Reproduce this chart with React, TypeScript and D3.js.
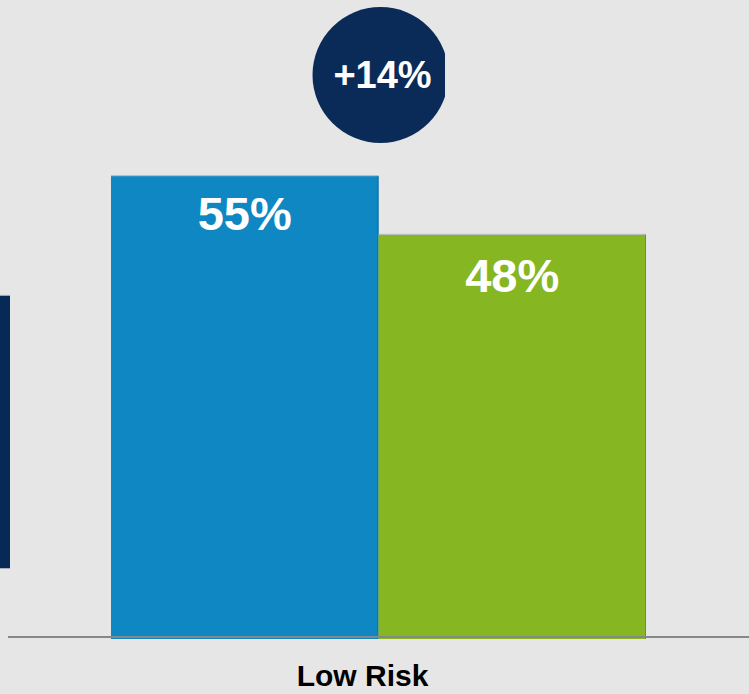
import React from "react";
import * as d3 from "d3";

const categories = ["Low Risk"];
const seriesNames = ["Series A", "Series B"];
const seriesValues = [55, 48];
const valueLabels = ["55%", "48%"];
const seriesColors = ["#0f87c2", "#86b723"];
const differenceLabel = "+14%";
// partially visible dark panel at the left edge (value range it spans)
const sideBarRange = [8.2, 40.7];

const W = 749;
const H = 694;

export default function App() {
  const baseY = 637;
  const y = d3.scaleLinear().domain([0, 76]).range([baseY, baseY - 76 * 8.38]);
  const xCat = d3.scaleBand().domain(categories).range([111, 646]).padding(0);
  const xSer = d3
    .scaleBand()
    .domain(seriesNames)
    .range([0, xCat.bandwidth()])
    .padding(0);

  const cx = (xCat(categories[0]) ?? 0) + xCat.bandwidth() / 2;
  const circleCx = cx + 2;
  const circleCy = 75;
  const r = 68;

  return (
    <svg
      width={W}
      height={H}
      style={{ position: "absolute", left: 0, top: 0, display: "block" }}
      fontFamily="'Liberation Sans', Arial, sans-serif"
    >
      <defs>
        <clipPath id="circClip">
          <rect x={0} y={0} width={445} height={H} />
        </clipPath>
      </defs>
      <rect x={0} y={0} width={W} height={H} fill="#e6e6e6" />

      {/* left dark panel edge */}
      <rect
        x={0}
        y={y(sideBarRange[1])}
        width={10}
        height={y(sideBarRange[0]) - y(sideBarRange[1])}
        fill="#062a55"
      />
      <line
        x1={0}
        x2={10}
        y1={y(sideBarRange[1]) - 0.5}
        y2={y(sideBarRange[1]) - 0.5}
        stroke="#9aa3ad"
        strokeWidth={1}
      />

      {categories.map((c) => (
        <g key={c} transform={`translate(${xCat(c)},0)`}>
          {seriesNames.map((s, i) => {
            const x0 = xSer(s) ?? 0;
            const top = y(seriesValues[i]);
            const bw = xSer.bandwidth();
            return (
              <g key={s}>
                <rect
                  x={x0}
                  y={top}
                  width={bw}
                  height={baseY + 2 - top}
                  fill={seriesColors[i]}
                />
                <line
                  x1={x0}
                  x2={x0 + bw}
                  y1={top - 0.5}
                  y2={top - 0.5}
                  stroke="#b4b8bc"
                  strokeWidth={1}
                />
                <line
                  x1={x0 + bw - 0.5}
                  x2={x0 + bw - 0.5}
                  y1={top}
                  y2={baseY + 2}
                  stroke={d3.color(seriesColors[i])!.darker(0.6).toString()}
                  strokeWidth={1}
                />
                <text
                  x={x0 + bw / 2}
                  y={top + (i === 0 ? 54 : 57)}
                  textAnchor="middle"
                  fill="#ffffff"
                  fontWeight="bold"
                  fontSize={47}
                >
                  {valueLabels[i]}
                </text>
              </g>
            );
          })}
          <text
            x={xCat.bandwidth() / 2 - 16}
            y={686}
            textAnchor="middle"
            fill="#000000"
            fontWeight="bold"
            fontSize={30}
          >
            {c}
          </text>
        </g>
      ))}

      {/* baseline */}
      <line x1={8} x2={W} y1={baseY} y2={baseY} stroke="#878787" strokeWidth={2} />

      {/* difference bubble */}
      <g clipPath="url(#circClip)">
        <circle cx={circleCx} cy={circleCy} r={r} fill="#0a2b58" />
      </g>
      <text
        x={circleCx + 2}
        y={88}
        textAnchor="middle"
        fill="#ffffff"
        fontWeight="bold"
        fontSize={38}
      >
        {differenceLabel}
      </text>
    </svg>
  );
}
